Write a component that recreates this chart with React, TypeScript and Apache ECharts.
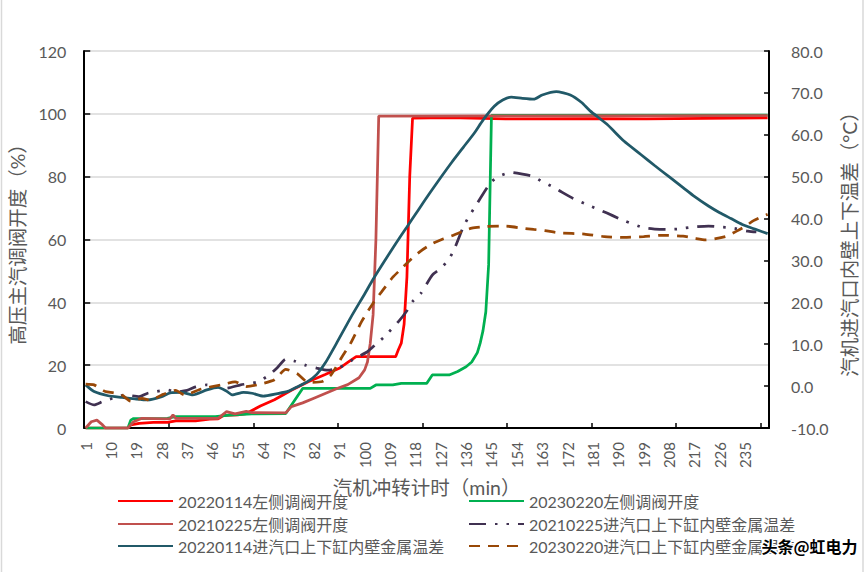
import React, { useEffect, useRef } from "react";
import * as echarts from "echarts";

// x categories: minutes since roll-off
const minutes: string[] = Array.from({ length: 243 }, (_, i) => String(i + 1));

const seriesNames = [
  "20220114左侧调阀开度",
  "20230220左侧调阀开度",
  "20210225左侧调阀开度",
  "20210225进汽口上下缸内壁金属温差",
  "20220114进汽口上下缸内壁金属温差",
  "20230220进汽口上下缸内壁金属温差",
];

// [minute, value]
const valve20220114: [number, number][] = [
  [1, 0], [16, 0], [17, 1], [20, 1.5], [25, 1.8], [30, 1.8], [33, 2.3], [40, 2.3], [45, 2.8], [48, 2.9],
  [50, 4], [55, 4.2], [58, 4.6], [63, 7], [68, 9], [74, 12], [80, 14.7], [86, 17], [91, 19], [95, 21.5],
  [97, 22.7], [111, 22.7], [112, 25], [113, 27], [114, 33], [115, 48], [116, 80], [117, 98.6], [130, 98.8],
  [150, 98.4], [180, 98.5], [200, 98.4], [243, 98.7],
];
const valve20230220: [number, number][] = [
  [1, 0], [16, 0], [17, 2.5], [18, 3], [30, 3.1], [33, 3.6], [47, 3.6], [52, 4.1], [60, 4.5], [72, 4.6],
  [78, 12.6], [102, 12.6], [104, 13.7], [110, 13.7], [113, 14.2], [122, 14.2], [124, 16.9], [130, 16.9],
  [133, 18], [136, 19.5], [138, 21], [140, 24], [141, 27], [142, 31], [143, 37], [144, 52], [145, 99.5],
  [243, 99.6],
];
const valve20210225: [number, number][] = [
  [1, 0], [3, 2], [5, 2.5], [7, 1], [8, 0], [16, 0], [18, 2], [21, 3.1], [29, 2.9], [31, 3], [32, 4.2],
  [33, 3.1], [48, 3.1], [51, 5.2], [54, 4.5], [58, 5.3], [60, 4.9], [72, 4.8], [74, 6.8], [78, 8],
  [82, 9.5], [86, 11], [90, 12.5], [94, 13.8], [98, 16], [100, 18.5], [101, 21], [102, 27], [103, 36],
  [104, 60], [105, 99.3], [243, 99.4],
];
const temp20210225: [number, number][] = [
  [1, -3.7], [4, -4.5], [7, -3.7], [11, -2.8], [15, -2.1], [20, -2.5], [23, -1.7], [26, -1.3], [30, -0.9],
  [33, -1.4], [37, -1.0], [40, -0.2], [44, 0.3], [48, -0.2], [51, -0.5], [56, 0.3], [62, 1.0], [66, 2.6],
  [69, 4.4], [72, 6.4], [75, 6.0], [79, 5.0], [83, 4.3], [87, 3.8], [91, 4.4], [97, 6.8], [101, 8.2],
  [104, 10], [107, 11.8], [112, 15.4], [115, 18], [117, 20.2], [120, 22.2], [124, 26.5], [127, 28.1],
  [130, 30.4], [132, 33], [135, 38], [137, 40.5], [139, 42.6], [141, 44.8], [145, 48.8], [148, 50.2],
  [152, 51], [156, 50.6], [160, 50], [163, 48.8], [167, 47.5], [170, 46.3], [174, 44.8], [180, 43],
  [184, 41.9], [188, 40.7], [192, 39.5], [199, 37.8], [203, 37.5], [207, 37.4], [211, 37.5], [217, 38],
  [222, 38.2], [226, 38], [230, 37.8], [236, 37], [239, 36.8],
];
const temp20220114: [number, number][] = [
  [1, 0.3], [4, -1.3], [9, -2.3], [14, -2.7], [19, -3.1], [23, -3.3], [28, -2.5], [31, -1.6], [35, -1.5],
  [39, -2.1], [44, -0.9], [48, -0.3], [51, -1.2], [53, -2.1], [57, -1.5], [60, -1.7], [64, -2.4],
  [69, -1.8], [73, -1.2], [76, -0.2], [80, 1.2], [83, 2.8], [86, 5.5], [90, 10.2], [95, 16.3], [100, 22],
  [103, 25.5], [107, 29.8], [111, 34], [115, 38], [119, 42], [123, 46], [127, 49.8], [131, 53.5],
  [135, 57], [139, 60.5], [142, 63.5], [146, 66.8], [149, 68.3], [152, 69], [156, 68.7], [160, 68.5],
  [163, 69.5], [168, 70.3], [173, 69.5], [177, 67.7], [180, 65.7], [186, 62.5], [192, 58.5], [198, 55.3],
  [203, 52.6], [208, 50], [213, 47.4], [217, 45.3], [222, 43], [226, 41.4], [230, 40], [234, 38.6],
  [238, 37.6], [243, 36.4],
];
const temp20230220: [number, number][] = [
  [1, 0.5], [4, 0.3], [8, -1.3], [11, -1.6], [14, -2.2], [17, -3.6], [21, -2.9], [24, -3.4], [28, -2.1],
  [33, -1.0], [36, -2.1], [42, -0.7], [49, 0.3], [54, 1.0], [58, -0.1], [62, 0.3], [68, 1.5], [72, 4.0],
  [76, 3.0], [80, 0.9], [85, 1.1], [88, 2.6], [92, 7], [95, 10.2], [99, 15.5], [103, 19.8], [106, 22.5],
  [110, 26], [113, 28], [116, 30], [120, 32.3], [124, 34], [128, 35.2], [131, 35.9], [135, 37], [138, 37.7],
  [143, 38.1], [150, 38.2], [156, 37.7], [160, 37.4], [164, 37.1], [169, 36.6], [178, 36.3], [185, 35.7],
  [192, 35.5], [199, 35.7], [205, 36], [213, 35.8], [217, 35.3], [221, 34.9], [228, 35.7], [232, 37],
  [235, 38.1], [238, 39.5], [243, 41],
];

const FONT = "Lato, 'Noto Sans CJK SC', sans-serif";
const GRAY = "#595959";

const toData = (pts: [number, number][]) => pts.map(([m, v]) => [String(m), v]);

export default function App() {
  const ref = useRef<HTMLDivElement>(null);
  useEffect(() => {
    if (!ref.current) return;
    const chart = echarts.init(ref.current, undefined, { renderer: "svg" });

    const specs = [
      { data: valve20220114, color: "#FF0000", y: 0, type: "solid" as any, smooth: false },
      { data: valve20230220, color: "#00B050", y: 0, type: "solid" as any, smooth: false },
      { data: valve20210225, color: "#C0504D", y: 0, type: "solid" as any, smooth: false },
      { data: temp20210225, color: "#403151", y: 1, type: [17, 9, 2.5, 9, 2.5, 9] as any, smooth: 0.2 },
      { data: temp20220114, color: "#215968", y: 1, type: "solid" as any, smooth: 0.2 },
      { data: temp20230220, color: "#984807", y: 1, type: [11, 8] as any, smooth: 0.2 },
    ];

    const legendPos = [
      { left: 117, top: 493 },
      { left: 468, top: 493 },
      { left: 117, top: 516 },
      { left: 468, top: 516 },
      { left: 117, top: 538 },
      { left: 468, top: 538 },
    ];

    chart.setOption({
      animation: false,
      backgroundColor: "#fff",
      grid: { left: 76.5, right: 87, top: 51, bottom: 144, containLabel: false },
      legend: seriesNames.map((n, i) => ({
        data: [n],
        left: legendPos[i].left,
        top: legendPos[i].top,
        padding: 0,
        itemWidth: 55,
        itemHeight: 14,
        itemStyle: { opacity: 0 },
        textStyle: { color: GRAY, fontSize: 16, fontFamily: FONT },
      })),
      xAxis: {
        type: "category",
        data: minutes,
        boundaryGap: true,
        name: "汽机冲转计时（min）",
        nameLocation: "middle",
        nameGap: 50,
        nameTextStyle: { color: GRAY, fontSize: 19.5, fontFamily: FONT },
        axisLine: { lineStyle: { color: "#000", width: 2 } },
        axisTick: { show: true, inside: true, length: 5, interval: 29, lineStyle: { color: "#000", width: 1.5 } },
        axisLabel: { interval: 8, rotate: 90, margin: 14, color: GRAY, fontSize: 15, fontFamily: FONT },
        splitLine: { show: false },
      },
      yAxis: [
        {
          type: "value",
          min: 0,
          max: 120,
          interval: 20,
          name: "高压主汽调阀开度（%）",
          nameLocation: "middle",
          nameRotate: 90,
          nameGap: 48.5,
          nameTextStyle: { color: GRAY, fontSize: 19.5, fontFamily: FONT },
          axisLine: { show: true, lineStyle: { color: "#000", width: 2 } },
          axisTick: { show: true, inside: true, length: 6, lineStyle: { color: "#000", width: 1.5 } },
          axisLabel: { margin: 18, color: GRAY, fontSize: 16, fontFamily: FONT },
          splitLine: { show: true, lineStyle: { color: "#D9D9D9", width: 1.5 } },
        },
        {
          type: "value",
          position: "right",
          min: -10,
          max: 80,
          interval: 10,
          name: "汽机进汽口内壁上下温差（°C）",
          nameLocation: "middle",
          nameRotate: 90,
          nameGap: 56,
          nameTextStyle: { color: GRAY, fontSize: 19.5, fontFamily: FONT },
          axisLine: { show: true, lineStyle: { color: "#000", width: 2 } },
          axisTick: { show: true, inside: true, length: 5, lineStyle: { color: "#000", width: 1.5 } },
          axisLabel: {
            margin: 22,
            color: GRAY,
            fontSize: 16,
            fontFamily: FONT,
            formatter: (v: number) => v.toFixed(1),
          },
          splitLine: { show: false },
        },
      ],
      series: specs.map((s, i) => ({
        name: seriesNames[i],
        type: "line",
        yAxisIndex: s.y,
        data: toData(s.data),
        showSymbol: false,
        symbol: "none",
        smooth: s.smooth,
        color: s.color,
        lineStyle: { color: s.color, width: 2.75, type: s.type },
      })),
      graphic: [
        {
          type: "rect",
          silent: true,
          shape: { x: 1.5, y: -5, width: 861.5, height: 590 },
          style: { fill: "none", stroke: "#D9D9D9", lineWidth: 1.5 },
        },
        {
          type: "text",
          left: 760,
          top: 536,
          silent: true,
          z: 100,
          style: {
            text: "头条@虹电力",
            fill: "#000",
            stroke: "#fff",
            lineWidth: 3,
            font: "bold 16px 'Noto Sans CJK SC', sans-serif",
          },
        },
      ],
    });
    return () => chart.dispose();
  }, []);
  return (
    <div
      ref={ref}
      style={{ position: "fixed", left: 0, top: 0, width: 867, height: 572, background: "#fff" }}
    />
  );
}
